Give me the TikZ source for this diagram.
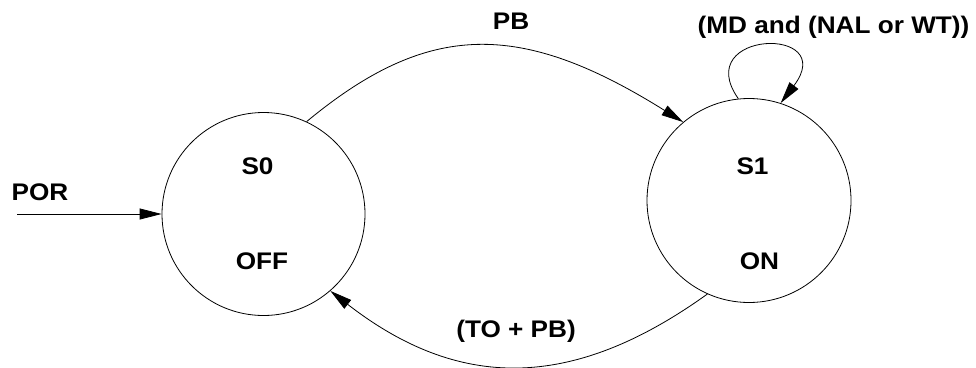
\documentclass[tikz,border=0pt]{standalone}
\usepackage{fontspec}
\setmainfont{Liberation Sans}[FakeStretch=1.09]
\usetikzlibrary{arrows.meta}
\begin{document}
\begin{tikzpicture}[x=1pt,y=-1pt,
  state/.style={circle,draw,line width=0.8pt,inner sep=0pt,minimum size=203pt},
  lbl/.style={font=\fontsize{24}{28}\selectfont\bfseries,inner sep=0pt,anchor=base},
  edgeline/.style={draw,line width=0.8pt,-{Triangle[length=22pt,width=11pt]}}]
\useasboundingbox[fill=white] (0,0) rectangle (976,367);
\node[state] (s0) at (263.5,214) {};
\node[state,minimum size=204pt] (s1) at (749,200.5) {};
\node[lbl] (s0n) at (257.5,174) {S0};
\node[lbl] (s0o) at (262,269) {OFF};
\node[lbl] (s1n) at (752.5,174) {S1};
\node[lbl] (s1o) at (759.5,269) {ON};
\node[lbl] (pb) at (511,29) {PB};
\node[lbl] (loop) at (833.5,33) {(MD and (NAL or WT))};
\node[lbl] (topb) at (516,337.5) {(TO + PB)};
\node[lbl] (por) at (40,200) {POR};
\coordinate (porstart) at (17,214);
\draw[edgeline] (porstart) -- (s0.west);
\draw[edgeline] (s0.65) .. controls (428,21) and (520,20) .. (s1.130);
\draw[edgeline] (s1.246) .. controls (571,392) and (458,390) .. (s0.311);
\draw[edgeline] (s1.96) .. controls (690,30) and (840,25) .. (s1.72);
\end{tikzpicture}
\end{document}
